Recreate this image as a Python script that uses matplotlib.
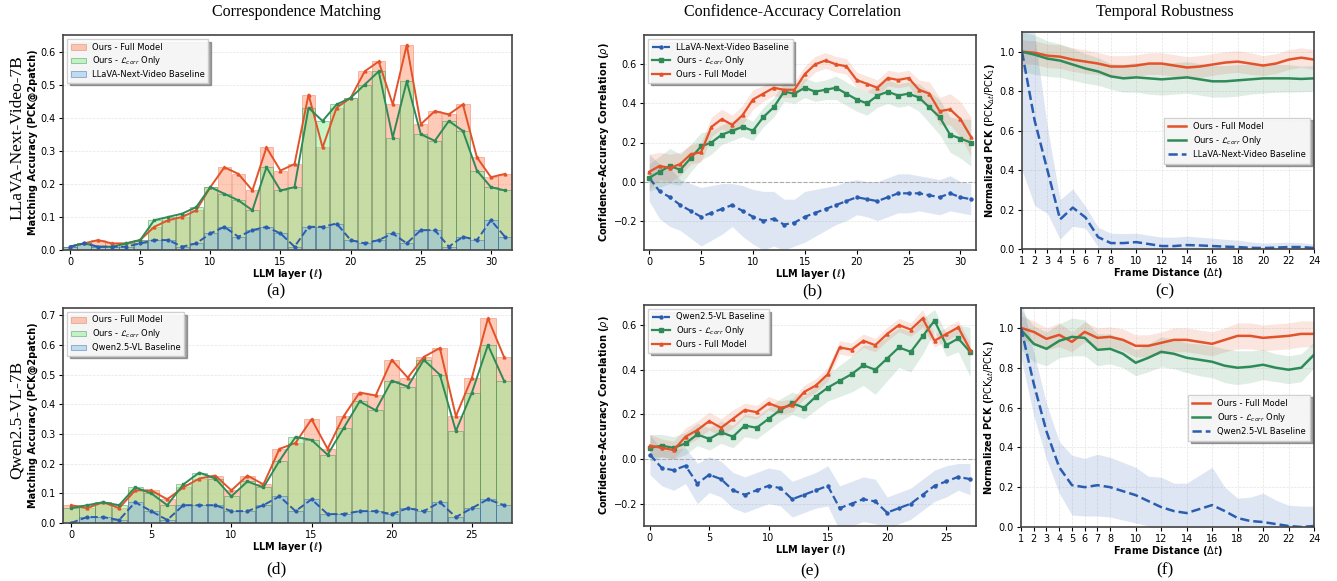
import numpy as np
import matplotlib.pyplot as plt

# ---- data: correspondence matching (PCK@2patch) ----
llava_layers = list(range(32))
llava_full = [0.01, 0.02, 0.03, 0.02, 0.02, 0.03, 0.07, 0.09, 0.10, 0.12, 0.19, 0.25, 0.23, 0.18, 0.31, 0.24,
              0.26, 0.47, 0.31, 0.43, 0.46, 0.54, 0.57, 0.44, 0.62, 0.38, 0.42, 0.41, 0.44, 0.28, 0.22, 0.23]
llava_corr = [0.01, 0.02, 0.01, 0.01, 0.02, 0.03, 0.09, 0.10, 0.11, 0.13, 0.19, 0.17, 0.15, 0.12, 0.25, 0.18,
              0.19, 0.43, 0.39, 0.44, 0.46, 0.50, 0.54, 0.34, 0.51, 0.35, 0.33, 0.39, 0.36, 0.24, 0.19, 0.18]
llava_base = [0.01, 0.02, 0.01, 0.01, 0.01, 0.02, 0.03, 0.03, 0.01, 0.02, 0.05, 0.07, 0.04, 0.06, 0.07, 0.05,
              0.01, 0.07, 0.07, 0.08, 0.03, 0.02, 0.03, 0.05, 0.02, 0.06, 0.06, 0.01, 0.04, 0.03, 0.09, 0.04]

qwen_layers = list(range(28))
qwen_full = [0.06, 0.05, 0.07, 0.05, 0.11, 0.11, 0.08, 0.12, 0.15, 0.16, 0.11, 0.16, 0.13, 0.25,
             0.27, 0.35, 0.25, 0.36, 0.44, 0.43, 0.55, 0.49, 0.56, 0.59, 0.36, 0.49, 0.69, 0.56]
qwen_corr = [0.05, 0.06, 0.07, 0.06, 0.12, 0.10, 0.06, 0.13, 0.17, 0.15, 0.09, 0.14, 0.12, 0.21,
             0.29, 0.28, 0.23, 0.32, 0.41, 0.38, 0.48, 0.46, 0.55, 0.50, 0.31, 0.44, 0.60, 0.48]
qwen_base = [0.00, 0.02, 0.02, 0.01, 0.07, 0.04, 0.01, 0.06, 0.06, 0.06, 0.04, 0.04, 0.06, 0.09,
             0.04, 0.08, 0.03, 0.03, 0.04, 0.04, 0.03, 0.05, 0.04, 0.07, 0.02, 0.05, 0.08, 0.06]

# ---- data: confidence-accuracy correlation (rho) ----
llava_rho_full = [0.05, 0.08, 0.07, 0.09, 0.14, 0.15, 0.28, 0.32, 0.29, 0.34, 0.42, 0.45, 0.48, 0.47, 0.47, 0.55,
                  0.60, 0.62, 0.60, 0.59, 0.52, 0.50, 0.48, 0.53, 0.52, 0.53, 0.47, 0.45, 0.36, 0.37, 0.32, 0.23]
llava_rho_full_sd = [0.09, 0.07, 0.07, 0.06, 0.05, 0.05, 0.05, 0.05, 0.05, 0.05, 0.05, 0.04, 0.04, 0.04, 0.04, 0.04,
                     0.04, 0.04, 0.04, 0.04, 0.04, 0.04, 0.04, 0.04, 0.04, 0.04, 0.05, 0.06, 0.07, 0.08, 0.09, 0.10]
llava_rho_corr = [0.02, 0.05, 0.08, 0.06, 0.12, 0.18, 0.20, 0.24, 0.26, 0.28, 0.26, 0.33, 0.38, 0.46, 0.45, 0.48,
                  0.46, 0.47, 0.48, 0.45, 0.42, 0.40, 0.44, 0.46, 0.44, 0.45, 0.43, 0.38, 0.33, 0.24, 0.22, 0.20]
llava_rho_corr_sd = [0.07, 0.08, 0.09, 0.08, 0.07, 0.07, 0.06, 0.05, 0.05, 0.05, 0.05, 0.05, 0.05, 0.05, 0.05, 0.05,
                     0.05, 0.05, 0.06, 0.06, 0.06, 0.06, 0.06, 0.06, 0.06, 0.06, 0.07, 0.08, 0.09, 0.09, 0.10, 0.12]
llava_rho_base = [0.02, -0.05, -0.08, -0.12, -0.15, -0.18, -0.16, -0.14, -0.12, -0.15, -0.18, -0.20, -0.19, -0.22,
                  -0.21, -0.18, -0.16, -0.14, -0.12, -0.10, -0.08, -0.09, -0.10, -0.08, -0.06, -0.06, -0.06, -0.07,
                  -0.08, -0.06, -0.08, -0.09]
llava_rho_base_sd = [0.12, 0.14, 0.15, 0.13, 0.14, 0.15, 0.14, 0.13, 0.11, 0.13, 0.14, 0.15, 0.14, 0.13, 0.12, 0.13,
                     0.12, 0.11, 0.10, 0.10, 0.09, 0.09, 0.10, 0.10, 0.10, 0.10, 0.09, 0.09, 0.09, 0.09, 0.08, 0.08]

qwen_rho_full = [0.06, 0.05, 0.04, 0.10, 0.13, 0.17, 0.14, 0.18, 0.22, 0.21, 0.25, 0.23, 0.24, 0.30,
                 0.33, 0.38, 0.50, 0.49, 0.53, 0.51, 0.56, 0.60, 0.58, 0.63, 0.53, 0.56, 0.59, 0.49]
qwen_rho_full_sd = [0.05, 0.04, 0.04, 0.04, 0.04, 0.04, 0.04, 0.04, 0.03, 0.03, 0.03, 0.03, 0.03, 0.03,
                    0.03, 0.03, 0.03, 0.03, 0.03, 0.03, 0.03, 0.03, 0.03, 0.04, 0.03, 0.03, 0.03, 0.03]
qwen_rho_corr = [0.05, 0.06, 0.05, 0.07, 0.11, 0.09, 0.12, 0.10, 0.15, 0.14, 0.18, 0.22, 0.25, 0.23,
                 0.28, 0.32, 0.35, 0.38, 0.42, 0.40, 0.45, 0.50, 0.48, 0.55, 0.62, 0.51, 0.54, 0.48]
qwen_rho_corr_sd = [0.06, 0.05, 0.05, 0.05, 0.05, 0.05, 0.05, 0.05, 0.05, 0.05, 0.05, 0.05, 0.05, 0.05,
                    0.06, 0.06, 0.07, 0.08, 0.09, 0.11, 0.10, 0.09, 0.09, 0.08, 0.05, 0.05, 0.06, 0.11]
qwen_rho_base = [0.02, -0.04, -0.05, -0.03, -0.11, -0.07, -0.09, -0.14, -0.16, -0.14, -0.12, -0.13, -0.18, -0.16,
                 -0.14, -0.12, -0.22, -0.20, -0.18, -0.19, -0.24, -0.22, -0.20, -0.16, -0.12, -0.10, -0.08, -0.09]
qwen_rho_base_sd = [0.09, 0.08, 0.09, 0.08, 0.09, 0.08, 0.08, 0.08, 0.08, 0.08, 0.08, 0.08, 0.08, 0.08,
                    0.08, 0.09, 0.10, 0.10, 0.10, 0.10, 0.07, 0.07, 0.07, 0.07, 0.07, 0.07, 0.06, 0.07]

# ---- data: temporal robustness (normalized PCK) ----
frame_dist = list(range(1, 25))
frame_ticks = [1, 2, 3, 4, 5, 6, 7, 8, 10, 12, 14, 16, 18, 20, 22, 24]

llava_t_full = [1.00, 0.995, 0.98, 0.975, 0.96, 0.95, 0.94, 0.925, 0.925, 0.93, 0.94, 0.94,
                0.93, 0.92, 0.925, 0.935, 0.945, 0.95, 0.94, 0.93, 0.94, 0.96, 0.97, 0.96]
llava_t_full_sd = [0.06, 0.06, 0.06, 0.06, 0.06, 0.06, 0.055, 0.055, 0.055, 0.055, 0.055, 0.055,
                   0.055, 0.055, 0.055, 0.055, 0.055, 0.055, 0.055, 0.05, 0.05, 0.05, 0.05, 0.05]
llava_t_corr = [1.00, 0.985, 0.965, 0.955, 0.935, 0.915, 0.90, 0.875, 0.865, 0.87, 0.865, 0.86,
                0.865, 0.87, 0.86, 0.85, 0.85, 0.855, 0.86, 0.865, 0.865, 0.865, 0.862, 0.865]
llava_t_corr_sd = [0.10, 0.10, 0.09, 0.085, 0.08, 0.075, 0.07, 0.065, 0.07, 0.075, 0.08, 0.08,
                   0.08, 0.08, 0.08, 0.08, 0.08, 0.08, 0.075, 0.075, 0.07, 0.07, 0.065, 0.065]
llava_t_base = [1.00, 0.65, 0.40, 0.15, 0.21, 0.16, 0.06, 0.03, 0.03, 0.035, 0.025, 0.015,
                0.015, 0.02, 0.018, 0.015, 0.012, 0.01, 0.006, 0.005, 0.007, 0.01, 0.01, 0.005]
llava_t_base_sd = [0.60, 0.43, 0.22, 0.10, 0.095, 0.055, 0.05, 0.05, 0.048, 0.045, 0.045, 0.045,
                   0.045, 0.045, 0.042, 0.04, 0.037, 0.035, 0.03, 0.025, 0.025, 0.025, 0.022, 0.02]

qwen_t_full = [1.00, 0.98, 0.945, 0.965, 0.93, 0.98, 0.95, 0.955, 0.94, 0.91, 0.91, 0.925,
               0.94, 0.94, 0.93, 0.92, 0.94, 0.96, 0.96, 0.95, 0.955, 0.96, 0.97, 0.97]
qwen_t_full_sd = [0.06, 0.055, 0.055, 0.06, 0.05, 0.05, 0.05, 0.05, 0.055, 0.055, 0.055, 0.055,
                  0.06, 0.06, 0.06, 0.06, 0.06, 0.065, 0.065, 0.065, 0.065, 0.065, 0.065, 0.065]
qwen_t_corr = [0.99, 0.92, 0.895, 0.935, 0.955, 0.95, 0.89, 0.895, 0.87, 0.825, 0.85, 0.88,
               0.87, 0.85, 0.84, 0.83, 0.81, 0.80, 0.805, 0.815, 0.80, 0.79, 0.80, 0.865]
qwen_t_corr_sd = [0.10, 0.09, 0.085, 0.085, 0.095, 0.09, 0.08, 0.075, 0.07, 0.065, 0.07, 0.075,
                  0.075, 0.075, 0.08, 0.08, 0.085, 0.085, 0.08, 0.075, 0.07, 0.07, 0.07, 0.065]
qwen_t_base = [1.00, 0.72, 0.48, 0.30, 0.21, 0.20, 0.21, 0.20, 0.18, 0.16, 0.13, 0.10,
               0.08, 0.07, 0.09, 0.11, 0.08, 0.045, 0.03, 0.025, 0.015, 0.005, 0.0, 0.005]
qwen_t_base_sd = [0.15, 0.16, 0.14, 0.13, 0.15, 0.145, 0.155, 0.15, 0.145, 0.14, 0.125, 0.15,
                  0.14, 0.15, 0.17, 0.19, 0.12, 0.10, 0.12, 0.145, 0.12, 0.105, 0.105, 0.10]

RED = '#E4522A'
GREEN = '#2E8B57'
BLUE = '#2A5DB0'
SERIF = 'Liberation Serif'

plt.rcParams['font.family'] = 'DejaVu Sans'
plt.rcParams['mathtext.fontset'] = 'dejavusans'

fig = plt.figure(figsize=(13.37, 5.81), dpi=100)
W, H = 1337.0, 581.0


def add_ax(l, r, t, b):
    return fig.add_axes([l / W, 1 - b / H, (r - l) / W, (b - t) / H])


def style_ax(ax, xgrid=False):
    for s in ax.spines.values():
        s.set_color('#444444')
        s.set_linewidth(1.2)
    ax.tick_params(labelsize=7, length=3, width=0.8, pad=2)
    ax.grid(axis='y', color='#dddddd', linestyle='--', linewidth=0.5, alpha=0.8)
    if xgrid:
        ax.grid(axis='x', color='#dddddd', linestyle='--', linewidth=0.5, alpha=0.8)
    ax.set_axisbelow(True)


def bar_panel(ax, x, full, corr, base, base_name, ylim):
    ax.bar(x, full, width=0.95, color='coral', alpha=0.4, edgecolor=RED, linewidth=0.6,
           label='Ours - Full Model')
    ax.bar(x, corr, width=0.95, color='lightgreen', alpha=0.5, edgecolor=GREEN, linewidth=0.6,
           label=r'Ours - $\mathcal{L}_{corr}$ Only')
    ax.bar(x, base, width=0.95, color='#8CC0E8', alpha=0.5, edgecolor=BLUE, linewidth=0.6,
           label=base_name)
    ax.plot(x, full, color=RED, lw=1.4, marker='^', ms=2)
    ax.plot(x, corr, color=GREEN, lw=1.4, marker='s', ms=2)
    ax.plot(x, base, color=BLUE, lw=1.4, ls='--', marker='o', ms=2)
    ax.set_xlim(-0.5, len(x) - 0.5)
    ax.set_ylim(*ylim)
    ax.set_xlabel(r'LLM layer ($\ell$)', fontsize=7, fontweight='bold', labelpad=0)
    ax.set_ylabel('Matching Accuracy (PCK@2patch)', fontsize=7, fontweight='bold', labelpad=2)
    ax.legend(loc='upper left', fontsize=6, shadow=True, framealpha=0.9, fancybox=False,
              borderpad=0.4, labelspacing=0.35, handlelength=1.8)
    style_ax(ax)


def rho_panel(ax, x, full, full_sd, corr, corr_sd, base, base_sd, base_name, ylim):
    x = np.array(x)
    for m, sd, c in [(base, base_sd, BLUE), (corr, corr_sd, GREEN), (full, full_sd, RED)]:
        m, sd = np.array(m), np.array(sd)
        ax.fill_between(x, m - sd, m + sd, color=c, alpha=0.15, lw=0)
    ax.axhline(0, color='#aaaaaa', ls='--', lw=0.8)
    ax.plot(x, base, color=BLUE, lw=1.6, ls='--', marker='o', ms=2.2, label=base_name)
    ax.plot(x, corr, color=GREEN, lw=1.6, marker='s', ms=2.2, label=r'Ours - $\mathcal{L}_{corr}$ Only')
    ax.plot(x, full, color=RED, lw=1.6, marker='^', ms=2.2, label='Ours - Full Model')
    ax.set_xlim(-0.5, len(x) - 0.5)
    ax.set_ylim(*ylim)
    ax.set_xlabel(r'LLM layer ($\ell$)', fontsize=7, fontweight='bold', labelpad=0)
    ax.set_ylabel(r'Confidence-Accuracy Correlation ($\rho$)', fontsize=7, fontweight='bold', labelpad=2)
    ax.legend(loc='upper left', fontsize=6, shadow=True, framealpha=0.9, fancybox=False,
              borderpad=0.4, labelspacing=0.35, handlelength=2.2)
    style_ax(ax)


def temporal_panel(ax, x, full, full_sd, corr, corr_sd, base, base_sd, base_name):
    x = np.array(x)
    for m, sd, c in [(full, full_sd, RED), (corr, corr_sd, GREEN), (base, base_sd, BLUE)]:
        m, sd = np.array(m), np.array(sd)
        ax.fill_between(x, m - sd, m + sd, color=c, alpha=0.15, lw=0)
    ax.plot(x, full, color=RED, lw=1.8, label='Ours - Full Model')
    ax.plot(x, corr, color=GREEN, lw=1.8, label=r'Ours - $\mathcal{L}_{corr}$ Only')
    ax.plot(x, base, color=BLUE, lw=1.8, ls='--', label=base_name)
    ax.set_xlim(1, 24)
    ax.set_ylim(0, 1.1)
    ax.set_xticks(frame_ticks)
    ax.set_xlabel(r'Frame Distance ($\Delta t$)', fontsize=7, fontweight='bold', labelpad=0)
    ax.set_ylabel(r'Normalized PCK ($\mathrm{PCK}_{\Delta t}/\mathrm{PCK}_1$)', fontsize=7,
                  fontweight='bold', labelpad=2)
    ax.legend(loc='center right', bbox_to_anchor=(1.0, 0.5), fontsize=6, shadow=True,
              framealpha=0.9, fancybox=False, borderpad=0.5, labelspacing=0.4, handlelength=2.2)
    style_ax(ax, xgrid=True)


ax_a = add_ax(63, 512, 35, 250)
bar_panel(ax_a, llava_layers, llava_full, llava_corr, llava_base, 'LLaVA-Next-Video Baseline', (0, 0.65))
ax_a.set_xticks([0, 5, 10, 15, 20, 25, 30])

ax_b = add_ax(644, 976, 35, 250)
rho_panel(ax_b, llava_layers, llava_rho_full, llava_rho_full_sd, llava_rho_corr, llava_rho_corr_sd,
          llava_rho_base, llava_rho_base_sd, 'LLaVA-Next-Video Baseline', (-0.35, 0.75))
ax_b.set_xticks([0, 5, 10, 15, 20, 25, 30])

ax_c = add_ax(1022, 1314, 32, 249)
temporal_panel(ax_c, frame_dist, llava_t_full, llava_t_full_sd, llava_t_corr, llava_t_corr_sd,
               llava_t_base, llava_t_base_sd, 'LLaVA-Next-Video Baseline')

ax_d = add_ax(63, 512, 308, 523)
bar_panel(ax_d, qwen_layers, qwen_full, qwen_corr, qwen_base, 'Qwen2.5-VL Baseline', (0, 0.725))
ax_d.set_xticks([0, 5, 10, 15, 20, 25])

ax_e = add_ax(644, 976, 305, 526)
rho_panel(ax_e, qwen_layers, qwen_rho_full, qwen_rho_full_sd, qwen_rho_corr, qwen_rho_corr_sd,
          qwen_rho_base, qwen_rho_base_sd, 'Qwen2.5-VL Baseline', (-0.3, 0.69))
ax_e.set_xticks([0, 5, 10, 15, 20, 25])

ax_f = add_ax(1021, 1314, 308, 527)
temporal_panel(ax_f, frame_dist, qwen_t_full, qwen_t_full_sd, qwen_t_corr, qwen_t_corr_sd,
               qwen_t_base, qwen_t_base_sd, 'Qwen2.5-VL Baseline')

# column titles, row labels, panel letters
for xc, txt in [(296, 'Correspondence Matching'), (793, 'Confidence-Accuracy Correlation'),
                (1165, 'Temporal Robustness')]:
    fig.text(xc / W, 1 - 12 / H, txt, family=SERIF, fontsize=11.5, ha='center', va='center')
fig.text(17 / W, 1 - 138 / H, 'LLaVA-Next-Video-7B', family=SERIF, fontsize=12.5, rotation=90,
         ha='center', va='center')
fig.text(17 / W, 1 - 420 / H, 'Qwen2.5-VL-7B', family=SERIF, fontsize=12.5, rotation=90,
         ha='center', va='center')
for xc, yc, txt in [(276, 291, '(a)'), (812, 291, '(b)'), (1165, 291, '(c)'),
                    (276, 569, '(d)'), (810, 571, '(e)'), (1165, 570, '(f)')]:
    fig.text(xc / W, 1 - yc / H, txt, family=SERIF, fontsize=12.5, ha='center', va='center')

fig.savefig('out.png', dpi=100)
